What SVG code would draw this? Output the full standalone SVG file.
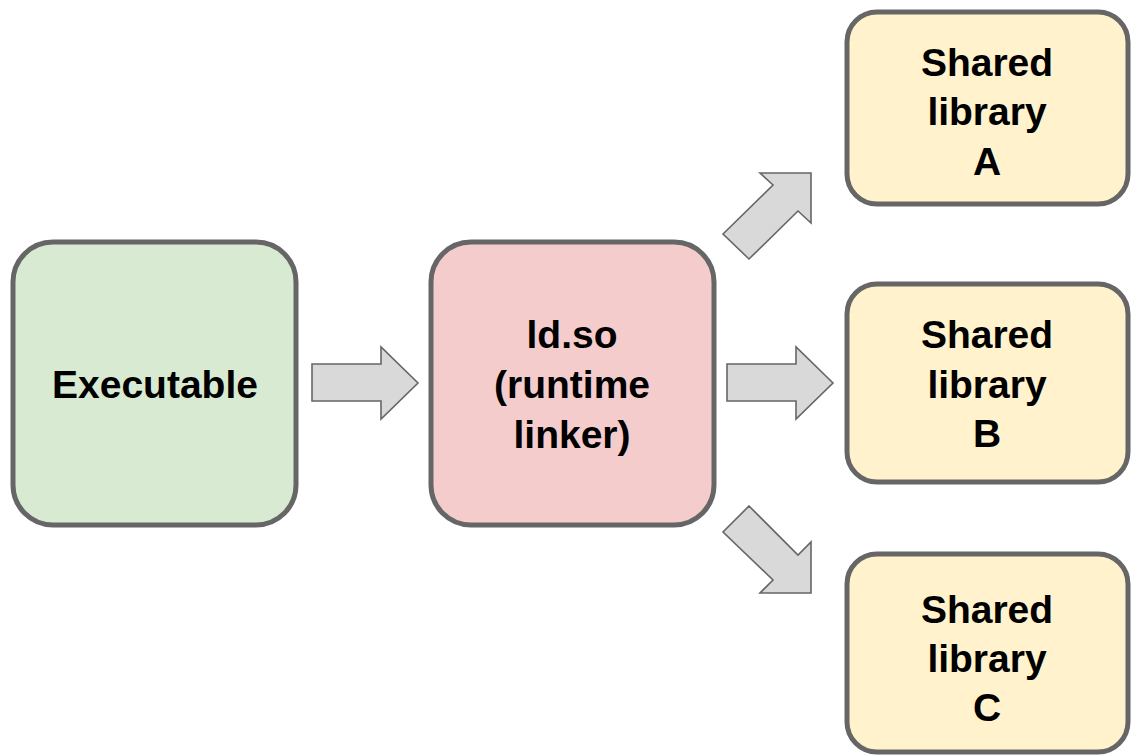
<svg xmlns="http://www.w3.org/2000/svg" width="1131" height="756" viewBox="0 0 1131 756">
  <style>
    .box { stroke: #666666; stroke-width: 5; }
    .exe { fill: #d9ead3; }
    .ld { fill: #f4cccc; }
    .lib { fill: #fff2cc; }
    .label { font-family: "Liberation Sans", Arial, Helvetica, sans-serif; font-weight: bold; font-size: 39px; fill: #000000; text-anchor: middle; }
    .arrow { fill: #d9d9d9; stroke: #666666; stroke-width: 1.6; stroke-linejoin: miter; }
  </style>
  <rect width="1131" height="756" fill="#ffffff"/>

  <!-- block arrows between the stages -->
  <g id="connectors">
    <polygon class="arrow" points="312,364 381,364 381,347 418,383 381,419 381,401 312,401"/>
    <polygon class="arrow" points="727,364 796,364 796,347 833,383 796,419 796,401 727,401"/>
    <polygon class="arrow" points="723,234 773,185 760,173 811,173 811,223 798,211 749,259"/>
    <polygon class="arrow" points="749,506 798,555 811,542 811,593 760,593 773,580 723,532"/>
  </g>

  <g id="executable">
    <rect class="box exe" x="13" y="242" width="283" height="283" rx="40" ry="40"/>
    <text class="label" x="155" y="398">Executable</text>
  </g>

  <g id="ld-so">
    <rect class="box ld" x="431" y="242" width="283" height="283" rx="40" ry="40"/>
    <text class="label" x="572" y="348">ld.so</text>
    <text class="label" x="572" y="398">(runtime</text>
    <text class="label" x="572" y="448">linker)</text>
  </g>

  <g id="shared-library-a">
    <rect class="box lib" x="847" y="12" width="281" height="192" rx="30" ry="30"/>
    <text class="label" x="987" y="76">Shared</text>
    <text class="label" x="987" y="125">library</text>
    <text class="label" x="987" y="175">A</text>
  </g>

  <g id="shared-library-b">
    <rect class="box lib" x="847" y="284" width="281" height="198" rx="30" ry="30"/>
    <text class="label" x="987" y="348">Shared</text>
    <text class="label" x="987" y="398">library</text>
    <text class="label" x="987" y="447">B</text>
  </g>

  <g id="shared-library-c">
    <rect class="box lib" x="847" y="554" width="281" height="198" rx="30" ry="30"/>
    <text class="label" x="987" y="623">Shared</text>
    <text class="label" x="987" y="672">library</text>
    <text class="label" x="987" y="721">C</text>
  </g>
</svg>
